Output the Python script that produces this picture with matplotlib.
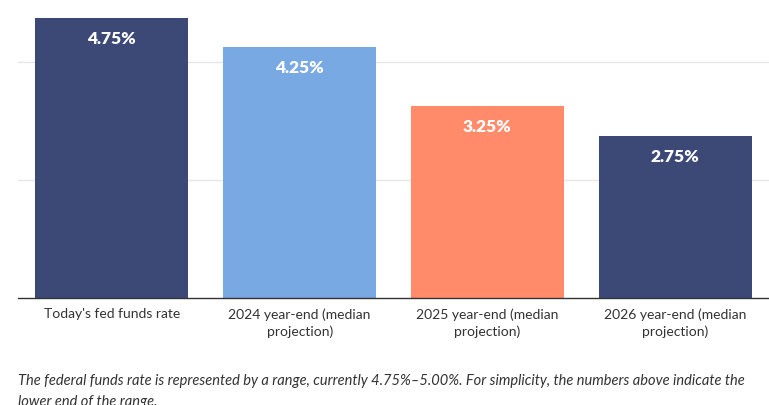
import numpy as np
import matplotlib
matplotlib.use("Agg")
from matplotlib import pyplot as plt

categories = [
    "Today's fed funds rate",
    "2024 year-end (median\nprojection)",
    "2025 year-end (median\nprojection)",
    "2026 year-end (median\nprojection)",
]
rates = [4.75, 4.25, 3.25, 2.75]
colors = ["#3c4876", "#78a9e3", "#ff8b6b", "#3c4876"]
note = ("The federal funds rate is represented by a range, currently 4.75%\u20135.00%. "
        "For simplicity, the numbers above indicate the\nlower end of the range.")

plt.rcParams['font.family'] = ['Lato', 'DejaVu Sans']

fig = plt.figure(figsize=(7.69, 4.06), dpi=100)
ax = fig.add_axes([18 / 769, 107.5 / 406, 751 / 769, 294.5 / 406])

xs = np.arange(len(rates))
bars = ax.bar(xs, rates, width=0.815, color=colors, zorder=2)

for b, v in zip(bars, rates):
    ax.annotate(f"{v:.2f}%", (b.get_x() + b.get_width() / 2, v),
                xytext=(0, -20), textcoords="offset pixels",
                ha="center", va="center", color="white",
                fontsize=12.5, fontweight="heavy", zorder=3)

ax.set_xlim(-0.5, 3.5)
ax.set_ylim(0, 5)
ax.set_yticks([2, 4])
ax.yaxis.grid(True, color="#e6e6e6", linewidth=1, zorder=0)
ax.tick_params(axis="y", left=False, labelleft=False)
ax.tick_params(axis="x", length=0, pad=7, labelsize=10, labelcolor="#333333")
ax.set_xticks(xs)
ax.set_xticklabels(categories, linespacing=1.45)

for s in ["left", "right", "top"]:
    ax.spines[s].set_visible(False)
ax.spines["bottom"].set_color("#333333")
ax.spines["bottom"].set_linewidth(1)

fig.text(18 / 769, 1 - 391.5 / 406, note, fontsize=10.5, style="italic",
         color="#333333", ha="left", va="center", linespacing=1.65)

fig.savefig("out.png", dpi=100)
